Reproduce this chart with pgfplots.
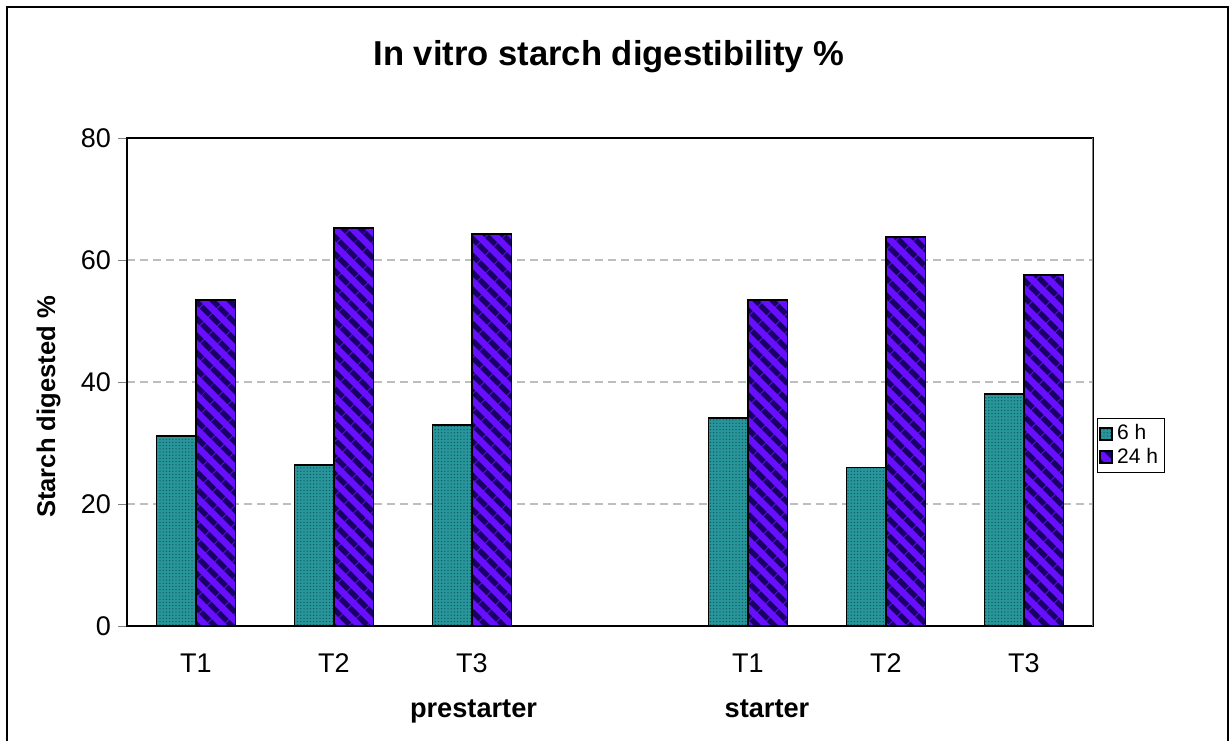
\documentclass[border=0pt]{standalone}
\usepackage{pgfplots}
\pgfplotsset{compat=1.18}
\usetikzlibrary{patterns.meta}
\usepackage{fontspec}
\setmainfont{Liberation Sans}

\definecolor{tealbar}{RGB}{40,150,155}
\definecolor{tealdot}{RGB}{15,85,95}
\definecolor{violetbar}{RGB}{105,15,255}
\definecolor{navystripe}{RGB}{25,0,100}
\definecolor{gridgray}{RGB}{190,190,190}

% 6 h / 24 h, prestarter T1-T3 at 0-2, starter T1-T3 at 4-6
\pgfplotstableread{
x   six  tf
0   31.1 53.4
1   26.4 65.3
2   33.0 64.3
4   34.1 53.4
5   26.0 63.8
6   38.0 57.6
}\digest

\begin{document}
\begin{tikzpicture}
\path[use as bounding box] (0,0) rectangle (616pt,-370pt);
\draw[line width=1pt] (3.5pt,-3.5pt) rectangle (614pt,-380pt);

\begin{axis}[
    at={(63.5pt,-313pt)}, anchor=south west,
    scale only axis, width=483pt, height=244pt,
    xmin=-0.5, xmax=6.5,
    ymin=0, ymax=80,
    ytick={0,20,40,60,80},
    xtick={0,1,2,4,5,6},
    xticklabels={T1,T2,T3,T1,T2,T3},
    major x tick style={draw=none},
    extra x ticks={-0.5,0.5,1.5,2.5,3.5,4.5,5.5,6.5},
    extra x tick labels={},
    extra x tick style={major tick length=4pt, tick align=outside, grid=none,
        tick style={draw=black, line width=0.5pt}},
    xtick pos=bottom, ytick pos=left,
    tick align=outside, major tick length=4.5pt,
    ymajorgrids, grid style={gridgray, dash pattern=on 4pt off 2.5pt, line width=0.6pt},
    axis line style={line width=0.6pt},
    /pgf/number format/assume math mode=true,
    tick label style={font=\fontsize{13.5}{15}\selectfont},
    xticklabel style={anchor=base, yshift=-18.5pt},
    yticklabel style={anchor=east},
    legend style={at={(1.004,0.426)}, anchor=north west, draw=black, line width=0.5pt,
        font=\fontsize{10.5}{12}\selectfont, inner sep=1pt, row sep=-1.5pt,
        cells={anchor=west}},
    legend image code/.code={\draw[#1] (0pt,-3pt) rectangle (6pt,3pt);},
]
\addplot[ybar, bar width=0.286, bar shift=-0.143, draw=black, line width=0.9pt,
    fill=tealbar, postaction={pattern={Dots[distance=1.6pt, radius=0.35pt]}, pattern color=tealdot}]
    table[x=x, y=six] {\digest};
\addplot[ybar, bar width=0.286, bar shift=0.143, draw=black, line width=0.9pt,
    fill=violetbar, postaction={pattern={Lines[angle=-45, distance=6.5pt, line width=3pt]}, pattern color=navystripe}]
    table[x=x, y=tf] {\digest};
\legend{6 h, 24 h}
\draw[gray, line width=0.7pt] (rel axis cs:1,0) -- (rel axis cs:1,1);
\end{axis}

\node[font=\fontsize{17.3}{20}\selectfont\bfseries, anchor=base] at (304.5pt,-32.5pt) {In vitro starch digestibility \%};
\node[font=\fontsize{12.8}{15}\selectfont\bfseries, rotate=90, anchor=base] at (27.5pt,-203.5pt) {Starch digested \%};
\node[font=\fontsize{13.6}{16}\selectfont\bfseries, anchor=base] at (236.75pt,-358.5pt) {prestarter};
\node[font=\fontsize{13.6}{16}\selectfont\bfseries, anchor=base] at (383.5pt,-358.5pt) {starter};
\end{tikzpicture}
\end{document}
